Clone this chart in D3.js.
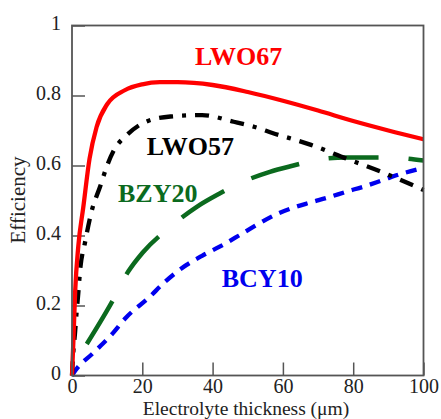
<!DOCTYPE html>
<html>
<head>
<meta charset="utf-8">
<script src="https://cdn.jsdelivr.net/npm/d3@7"></script>
<style>
    body { margin: 0; background: #fff; }
    .tickLabel text { font-family: "Liberation Serif", "Times New Roman", serif; font-size: 20px; fill: #222; }
    .axisTitle { font-family: "Liberation Serif", "Times New Roman", serif; font-size: 19.5px; fill: #222; }
    .yTitle { font-size: 21px; }
    .seriesLabel { font-family: "Liberation Serif", "Times New Roman", serif; font-size: 26px; font-weight: bold; }
</style>
</head>
<body>
<script>
(function(){

//x ticks and y ticks with their labels
var xTicks = [0, 20, 40, 60, 80, 100];
var yTicks = [0, 0.2, 0.4, 0.6, 0.8, 1];
var yTickLabels = ["0", "0.2", "0.4", "0.6", "0.8", "1"];

//series names
var seriesNames = ["LWO67", "LWO57", "BZY20", "BCY10"];

//thickness (um) values, one list per series
var lwo67X = [0, 0.4, 0.9, 1.8, 3.2, 5, 7, 10, 15, 20, 25, 30, 40, 50, 60, 70, 80, 90, 100];
var lwo67Y = [0, 0.1, 0.24, 0.37, 0.48, 0.62, 0.71, 0.775, 0.815, 0.832, 0.838, 0.838, 0.83, 0.81, 0.785, 0.757, 0.727, 0.70, 0.675];

var lwo57X = [0, 0.4, 0.85, 1.3, 1.7, 2.3, 3.7, 5.6, 8, 10, 12, 15.6, 21, 28, 37, 46, 52, 57, 68, 78, 89, 100];
var lwo57Y = [0, 0.07, 0.12, 0.18, 0.224, 0.3, 0.38, 0.47, 0.54, 0.6, 0.645, 0.687, 0.725, 0.74, 0.744, 0.725, 0.71, 0.693, 0.659, 0.62, 0.578, 0.53];

var bzy20X = [4.2, 11.7, 16, 20, 28, 35.5, 42, 48.7, 56.3, 63, 69.6, 78, 90, 100];
var bzy20Y = [0.09, 0.216, 0.297, 0.35, 0.425, 0.482, 0.52, 0.554, 0.582, 0.60, 0.616, 0.623, 0.623, 0.614];

var bcy10X = [0, 1, 6, 11, 15.6, 21.7, 26.5, 32.6, 37, 42, 47.5, 52.5, 57.8, 62.5, 67.7, 73, 78, 83.4, 88.6, 93.3, 100];
var bcy10Y = [0, 0.015, 0.064, 0.114, 0.168, 0.221, 0.268, 0.316, 0.342, 0.368, 0.4, 0.43, 0.459, 0.478, 0.494, 0.509, 0.525, 0.541, 0.559, 0.575, 0.593];

//begin script when window loads
window.onload = drawChart();

function drawChart(){

    //frame dimensions
    var width = 441,
        height = 419,
        left = 72,
        right = 423.5,
        top = 25.5,
        bottom = 375.5;

    var svg = d3.select("body")
        .append("svg")
        .attr("width", width)
        .attr("height", height);

    //scales
    var x = d3.scaleLinear().domain([0, 100]).range([left, right]);
    var y = d3.scaleLinear().domain([0, 1]).range([bottom, top]);

    //x axis, ticks pointing inward
    var xAxis = svg.append("g")
        .attr("class", "tickLabel")
        .attr("transform", "translate(0," + bottom + ")")
        .call(d3.axisBottom(x)
            .tickValues(xTicks)
            .tickSize(-13)
            .tickPadding(3)
            .tickFormat(d3.format("d")));

    //y axis, ticks pointing inward
    var yAxis = svg.append("g")
        .attr("class", "tickLabel")
        .attr("transform", "translate(" + left + ",0)")
        .call(d3.axisLeft(y)
            .tickValues(yTicks)
            .tickSize(-13)
            .tickPadding(11)
            .tickFormat(function(d, i){ return yTickLabels[i]; }));

    yAxis.selectAll("text").attr("dy", "0.2em");

    //style axes: no domain line, gray ticks
    svg.selectAll(".tickLabel .domain").remove();
    svg.selectAll(".tickLabel line")
        .attr("stroke", "#555")
        .attr("stroke-width", 1.5);

    //line generator
    var line = d3.line()
        .x(function(d){ return x(d[0]); })
        .y(function(d){ return y(d[1]); })
        .curve(d3.curveMonotoneX);

    function zip(xs, ys){
        return xs.map(function(v, i){ return [v, ys[i]]; });
    };

    //one entry per series
    var series = [
        {name: seriesNames[0], pts: zip(lwo67X, lwo67Y), color: "#ff0000", dash: null, w: 4.3},
        {name: seriesNames[1], pts: zip(lwo57X, lwo57Y), color: "#000000", dash: "14,9,4,9", w: 4.3},
        {name: seriesNames[2], pts: zip(bzy20X, bzy20Y), color: "#0b6a1e", dash: "50,30", w: 4.5},
        {name: seriesNames[3], pts: zip(bcy10X, bcy10Y), color: "#0000ee", dash: "11,8", w: 4.3}
    ];

    //draw back to front so red stays on top
    svg.selectAll(".series")
        .data(series.slice().reverse())
        .enter()
        .append("path")
        .attr("class", "series")
        .attr("d", function(d){ return line(d.pts); })
        .attr("fill", "none")
        .attr("stroke", function(d){ return d.color; })
        .attr("stroke-width", function(d){ return d.w; })
        .attr("stroke-dasharray", function(d){ return d.dash; });

    //series labels, placed in data coordinates
    var labels = [
        {text: seriesNames[0], x: 35, y: 0.886, color: "#ff0000"},
        {text: seriesNames[1], x: 21.3, y: 0.63, color: "#000000"},
        {text: seriesNames[2], x: 13.1, y: 0.496, color: "#0b6a1e"},
        {text: seriesNames[3], x: 42.6, y: 0.254, color: "#0000ee"}
    ];

    svg.selectAll(".seriesLabel")
        .data(labels)
        .enter()
        .append("text")
        .attr("class", "seriesLabel")
        .attr("x", function(d){ return x(d.x); })
        .attr("y", function(d){ return y(d.y); })
        .attr("fill", function(d){ return d.color; })
        .text(function(d){ return d.text; });

    //frame round the plot
    svg.append("rect")
        .attr("x", left)
        .attr("y", top)
        .attr("width", right - left)
        .attr("height", bottom - top)
        .attr("fill", "none")
        .attr("stroke", "#555")
        .attr("stroke-width", 1.8);

    //axis titles
    svg.append("text")
        .attr("class", "axisTitle")
        .attr("x", 246)
        .attr("y", 414.5)
        .attr("text-anchor", "middle")
        .text("Electrolyte thickness (\u03bcm)");

    svg.append("text")
        .attr("class", "axisTitle yTitle")
        .attr("transform", "translate(25,200) rotate(-90)")
        .attr("text-anchor", "middle")
        .text("Efficiency");
};

})();
</script>
</body>
</html>
